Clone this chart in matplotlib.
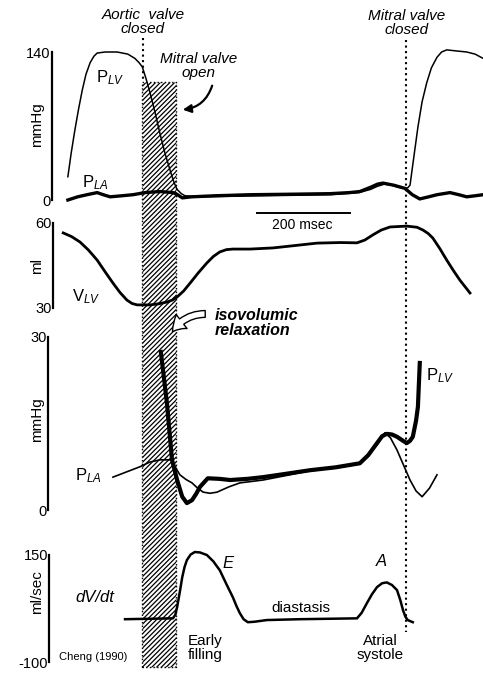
import matplotlib
matplotlib.use('Agg')
import matplotlib.pyplot as plt

plt.rcParams['font.family'] = ['Liberation Sans', 'DejaVu Sans']
plt.rcParams['mathtext.fontset'] = 'custom'
plt.rcParams['mathtext.rm'] = 'Liberation Sans'
plt.rcParams['mathtext.it'] = 'Liberation Sans:italic'
plt.rcParams['axes.unicode_minus'] = False
plt.rcParams['hatch.linewidth'] = 0.9
plt.rcParams['lines.solid_joinstyle'] = 'round'

# time in msec
t_plv_hi = [34, 41, 49, 57, 65, 73, 82, 90, 97, 114, 140, 163, 178, 187, 194, 202, 211,
            222, 232, 243, 254, 262, 269, 278, 286, 318, 450, 600, 660, 685, 700, 715,
            730, 745, 759, 765, 770, 778, 787, 796, 806, 816, 828, 838, 849, 870, 892,
            910, 927]
plv_hi = [22, 44, 66, 86, 104, 119, 130, 136, 139, 140, 140, 138, 134, 130, 126, 115, 101,
          82, 63, 44, 28, 17, 10, 6, 4, 3, 4, 5, 7, 10, 13, 15, 14, 12, 11, 11.5, 14, 40,
          69, 93, 111, 125, 135, 140, 142, 141, 140, 138, 134]
t_pla_hi = [34, 55, 75, 97, 110, 125, 150, 174, 200, 232, 260, 270, 280, 300, 350, 426,
            520, 598, 640, 662, 685, 700, 712, 735, 759, 775, 791, 810, 828, 856, 875,
            892, 910, 927]
pla_hi = [0, 3, 5, 7, 5, 3, 4, 5, 7, 8, 7, 5, 2, 3, 4, 5, 5.5, 6, 7, 8, 12, 15, 16, 14,
          11, 5, 1, 3, 5, 7, 5, 3, 4, 5]

t_vlv = [24, 42, 60, 78, 97, 114, 131, 146, 161, 172, 183, 211, 230, 247, 259, 269, 283,
         297, 315, 333, 347, 361, 375, 389, 426, 475, 520, 570, 620, 656, 673, 690, 708,
         727, 763, 785, 798, 809, 819, 834, 849, 863, 877, 899]
vlv = [56.5, 55.2, 53.3, 50.5, 46.9, 42.8, 38.8, 35.5, 32.8, 31.6, 31.1, 31.1, 31.5, 32.1,
       32.8, 33.9, 36.0, 38.8, 42.5, 45.9, 48.2, 49.8, 50.6, 50.8, 50.8, 51.2, 52.0, 52.9,
       53.1, 53.0, 54.0, 55.8, 57.5, 58.6, 58.9, 58.5, 57.5, 56.3, 54.7, 51.0, 46.9, 43.3,
       39.9, 35.3]

t_plv_lo = [234, 247, 258, 269, 280, 290, 301, 310, 318, 335, 360, 383, 420, 454, 505,
            555, 610, 662, 680, 699, 710, 720, 731, 742, 755, 763, 770, 776, 783, 787, 791]
plv_lo = [27.4, 18.6, 8.7, 5.2, 2.3, 1.2, 1.7, 2.8, 4.0, 5.5, 5.4, 5.2, 5.4, 5.7, 6.3,
          6.9, 7.4, 8.1, 9.5, 11.6, 12.8, 13.2, 13.1, 12.7, 12.0, 11.6, 12.0, 12.7, 15.5,
          17.9, 25.5]
t_pla_lo = [131, 160, 189, 210, 232, 258, 266, 275, 288, 301, 313, 325, 340, 355, 380,
            404, 454, 505, 555, 610, 662, 680, 699, 716, 728, 742, 756, 770, 783, 796,
            812, 828]
pla_lo = [5.7, 6.6, 7.5, 8.3, 8.7, 8.7, 7.3, 6.1, 5.3, 4.7, 3.8, 3.1, 2.9, 3.1, 4.0, 4.7,
          5.2, 6.0, 6.8, 7.3, 8.0, 9.5, 11.3, 13.4, 12.5, 10.4, 7.8, 5.2, 3.3, 2.3, 3.8,
          6.1]

t_dvdt = [157, 260, 265, 269, 275, 280, 285, 290, 298, 307, 318, 333, 347, 361, 375, 389,
          397, 404, 412, 421, 435, 462, 533, 656, 666, 677, 688, 699, 710, 720, 731, 742,
          749, 755, 760, 765, 776]
dvdt = [0, 2, 10, 28, 65, 98, 122, 138, 151, 157, 156, 150, 135, 114, 82, 51, 30, 14, 0,
        -7, -6, -2, 0, 2, 15, 37, 58, 75, 84, 86, 80, 68, 45, 21, 6, -2, -7]

t_aortic_close = 194
t_mitral_open = 267
t_mitral_close = 761

W, H = 483, 673
XLIM = (-112, 927)

fig = plt.figure(figsize=(W / 100, H / 100), dpi=100)

# overlay in time / pixel-from-top coordinates for the hatched band and valve lines
ov = fig.add_axes([0, 0, 1, 1], zorder=0)
ov.set_xlim(XLIM)
ov.set_ylim(H, 0)
ov.axis('off')
ov.fill_between([t_aortic_close, t_mitral_open], 82, 667, facecolor='white',
                edgecolor='black', hatch='///////', linestyle=':', linewidth=1.0)
ov.plot([t_aortic_close + 2] * 2, [38, 82], color='black', ls=':', lw=1.5)
ov.plot([t_mitral_close] * 2, [40, 632], color='black', ls=':', lw=1.5)


def panel(top, bottom, ylim, spine_t):
    ax = fig.add_axes([0, 1 - bottom / H, 1, (bottom - top) / H], zorder=1)
    ax.patch.set_alpha(0)
    ax.set_xlim(XLIM)
    ax.set_ylim(ylim)
    for s in ['top', 'right', 'bottom']:
        ax.spines[s].set_visible(False)
    ax.spines['left'].set_position(('data', spine_t))
    ax.spines['left'].set_linewidth(1.6)
    ax.set_xticks([])
    ax.set_yticks(ylim)
    ax.tick_params(axis='y', length=0, pad=1, labelsize=10.5)
    return ax


ax1 = panel(52, 200, (0, 140), 0)
ax1.plot(t_plv_hi, plv_hi, color='black', lw=1.1, clip_on=False)
ax1.plot(t_pla_hi, pla_hi, color='black', lw=2.4, clip_on=False)

ax2 = panel(223, 308, (30, 60), 2)
ax2.plot(t_vlv, vlv, color='black', lw=2.0, clip_on=False)

ax3 = panel(337, 510, (0, 30), -8)
ax3.plot(t_pla_lo, pla_lo, color='black', lw=1.2, clip_on=False)
ax3.plot(t_plv_lo, plv_lo, color='black', lw=3.0, clip_on=False)

ax4 = panel(555, 662, (-100, 150), -6)
ax4.plot(t_dvdt, dvdt, color='black', lw=1.8, clip_on=False)


def T(px, py, s, **kw):
    kw.setdefault('ha', 'center')
    kw.setdefault('va', 'center')
    fig.text(px / W, 1 - py / H, s, **kw)


T(143, 22, 'Aortic  valve\nclosed', style='italic', fontsize=11, linespacing=1.0)
T(199, 66, 'Mitral valve\nopen', style='italic', fontsize=11, linespacing=1.0)
T(407, 23, 'Mitral valve\nclosed', style='italic', fontsize=11, linespacing=1.0)

T(37, 125, 'mmHg', rotation=90, fontsize=11)
T(37, 266, 'ml', rotation=90, fontsize=11)
T(37, 420, 'mmHg', rotation=90, fontsize=11)
T(37, 592, 'ml/sec', rotation=90, fontsize=11)

T(96, 78, r'P$_{\mathit{LV}}$', ha='left', fontsize=12)
T(82, 183, r'P$_{\mathit{LA}}$', ha='left', fontsize=12)
T(72, 297, r'V$_{\mathit{LV}}$', ha='left', fontsize=12)
T(75, 476, r'P$_{\mathit{LA}}$', ha='left', fontsize=12)
T(426, 376, r'P$_{\mathit{LV}}$', ha='left', fontsize=12)

T(302, 225, '200 msec', fontsize=10)
ov.plot([440, 640], [213, 213], color='black', lw=1.4)

T(215, 323, 'isovolumic\nrelaxation', ha='left', style='italic', weight='bold',
  fontsize=11.5, linespacing=1.0)

T(75, 597, 'dV/dt', ha='left', style='italic', fontsize=12)
T(228, 563, 'E', style='italic', fontsize=12)
T(381, 562, 'A', style='italic', fontsize=12)
T(301, 608, 'diastasis', fontsize=11)
T(205, 648, 'Early\nfilling', fontsize=11, linespacing=1.0)
T(380, 648, 'Atrial\nsystole', fontsize=11, linespacing=1.0)
T(93, 657, 'Cheng (1990)', fontsize=8)

ov.annotate('', xy=(180 / W, 1 - 110 / H), xytext=(213 / W, 1 - 83 / H),
            xycoords='figure fraction', textcoords='figure fraction',
            arrowprops=dict(arrowstyle='-|>', color='black', lw=1.6,
                            connectionstyle='arc3,rad=-0.35', mutation_scale=12))
ov.annotate('', xy=(171 / W, 1 - 334 / H), xytext=(208 / W, 1 - 314 / H),
            xycoords='figure fraction', textcoords='figure fraction',
            arrowprops=dict(arrowstyle='simple,head_width=0.9,head_length=0.7,tail_width=0.35',
                            fc='white', ec='black', lw=1.0,
                            connectionstyle='arc3,rad=0.3', mutation_scale=14))

fig.savefig('out.png', dpi=100)
